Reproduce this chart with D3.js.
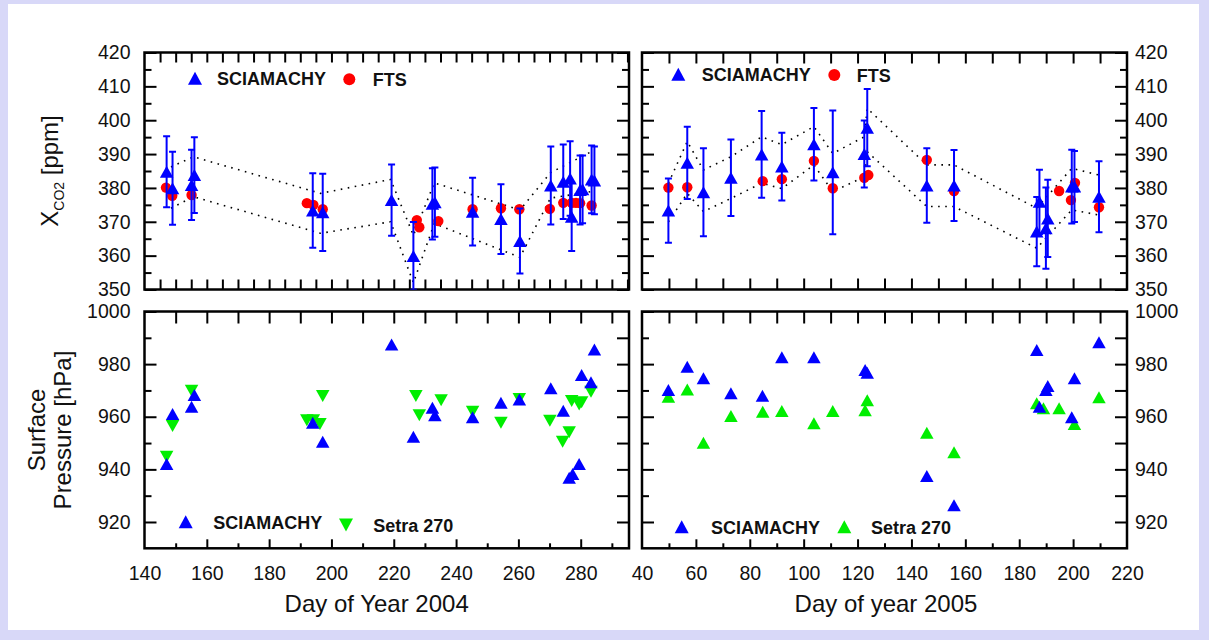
<!DOCTYPE html>
<html>
<head>
<meta charset="utf-8">
<script src="https://cdn.jsdelivr.net/npm/d3@7"></script>
<style>
  body { margin: 0; background: #fff; }
  svg { display: block; font-family: "Liberation Sans", Arial, sans-serif; }
</style>
</head>
<body>
<div id="chart"></div>
<script>
// ---- 2004 : SCIAMACHY XCO2 (day, ppm, error) ----
var sciaDays04 = [147.1, 149.0, 155.1, 156.0, 194.0, 197.2, 219.3, 226.3, 232.4, 233.2, 245.3,
                  254.4, 260.5, 270.4, 274.4, 276.6, 277.1, 279.8, 280.6, 283.5, 284.4]
var sciaCo2_04 = [384.8, 379.9, 380.9, 383.8, 373.3, 372.8, 376.4, 359.9, 375.3, 375.8, 373.0,
                  370.8, 364.3, 380.7, 381.8, 382.8, 371.5, 379.4, 379.6, 382.5, 382.2]
var sciaErr04  = [10.5, 10.8, 10.4, 11.2, 11.0, 11.4, 10.5, 10.0, 10.5, 10.2, 10.0,
                  10.3, 9.6, 11.5, 11.0, 11.0, 10.1, 10.2, 10.0, 10.0, 10.0]

// ---- 2004 : FTS XCO2 ----
var ftsDays04 = [146.9, 148.9, 155.1, 192.1, 194.2, 197.2, 227.4, 228.2, 234.3, 245.3, 254.4,
                 260.3, 270.1, 274.4, 277.1, 278.5, 279.8, 283.5]
var ftsCo2_04 = [380.1, 377.7, 377.9, 375.5, 375.0, 373.7, 370.5, 368.4, 370.2, 373.7, 374.0,
                 373.7, 373.8, 375.6, 375.6, 375.6, 375.5, 374.8]

// ---- 2004 : dotted envelope ----
var envDays04  = [148.5, 155.7, 196.5, 219.0, 226.3, 233.0, 260.5, 270.3, 284.0]
var envUpper04 = [386.2, 389.2, 378.4, 382.5, 366.0, 381.5, 373.5, 384.5, 391.0]
var envLower04 = [374.0, 377.4, 366.6, 370.0, 352.0, 369.5, 359.5, 377.0, 379.0]

// ---- 2005 : SCIAMACHY XCO2 ----
var sciaDays05 = [49.8, 56.8, 62.8, 73.0, 84.4, 91.9, 103.8, 110.8, 122.5, 123.6,
                  145.7, 155.8, 186.5, 187.5, 189.9, 190.6, 199.5, 200.5, 209.6]
var sciaCo2_05 = [373.3, 387.4, 378.7, 383.0, 389.9, 386.3, 392.9, 384.6, 390.0, 397.8,
                  380.7, 380.7, 367.1, 375.9, 368.1, 371.0, 380.4, 380.4, 377.4]
var sciaErr05  = [9.5, 10.7, 13.0, 11.3, 12.8, 10.0, 10.7, 18.3, 9.9, 11.4,
                  11.0, 10.5, 10.2, 9.5, 12.0, 11.4, 10.9, 10.5, 10.5]

// ---- 2005 : FTS XCO2 ----
var ftsDays05 = [49.8, 56.8, 84.8, 91.9, 103.8, 110.8, 122.5, 124.0, 145.7, 155.8, 194.8, 199.2, 200.7, 209.6]
var ftsCo2_05 = [380.1, 380.2, 382.0, 382.6, 388.0, 379.9, 383.0, 383.8, 388.3, 379.1, 379.1, 376.4, 381.5, 374.3]

// ---- 2005 : dotted envelope ----
var envDays05  = [49.8, 56.8, 62.8, 73.0, 84.4, 91.9, 103.8, 110.8, 122.5, 123.6, 145.7, 155.8, 186.5, 199.5, 209.6]
var envUpper05 = [381.4, 393.7, 385.3, 389.2, 395.1, 392.8, 398.1, 390.2, 395.1, 403.5, 386.8, 386.8, 374.0, 385.8, 383.8]
var envLower05 = [370.0, 378.4, 373.0, 376.9, 381.4, 379.8, 386.8, 378.9, 383.3, 390.7, 374.5, 374.5, 362.2, 373.5, 372.0]

// ---- 2004 : surface pressure ----
var sciaPDays04 = [147.1, 149.0, 155.1, 156.0, 194.0, 197.2, 219.3, 226.3, 232.4, 233.2, 245.3,
                   254.4, 260.3, 270.4, 274.4, 276.3, 277.4, 279.5, 280.3, 283.3, 284.4]
var sciaPres04  = [942.0, 961.0, 963.8, 968.3, 957.7, 950.5, 987.5, 952.4, 963.4, 960.6, 959.8,
                   965.3, 966.6, 970.8, 962.3, 936.8, 938.2, 942.0, 975.9, 973.1, 985.6]
var setraDays04 = [147.1, 149.0, 155.1, 192.1, 194.2, 196.3, 197.2, 227.1, 228.2, 235.2, 245.3,
                   254.4, 260.3, 270.1, 274.2, 276.3, 277.1, 279.5, 280.3, 283.3]
var setraPres04 = [944.8, 956.5, 969.9, 958.7, 958.7, 957.2, 967.9, 967.9, 960.6, 966.3, 961.9,
                   957.7, 966.7, 958.5, 950.5, 954.1, 966.0, 964.7, 965.5, 969.5]

// ---- 2005 : surface pressure ----
var sciaPDays05 = [49.8, 56.8, 62.8, 73.0, 84.7, 91.9, 103.8, 122.8, 123.6, 145.7, 155.8,
                   186.5, 187.5, 189.9, 190.6, 199.5, 200.5, 209.6]
var sciaPres05  = [970.2, 979.0, 974.6, 968.9, 968.0, 982.6, 982.6, 977.8, 976.7, 937.5, 926.4,
                   985.4, 963.8, 970.2, 971.7, 959.8, 974.6, 988.3]
var setraDays05 = [49.8, 56.8, 62.8, 73.0, 84.8, 91.9, 103.8, 110.8, 122.8, 123.6, 145.7, 155.8,
                   186.5, 189.0, 194.8, 200.5, 209.6]
var setraPres05 = [967.6, 970.4, 950.1, 960.3, 961.9, 962.2, 957.5, 962.2, 962.5, 966.3, 953.9, 946.5,
                   965.1, 963.2, 963.2, 957.2, 967.4]

// tick label values
var co2Ticks  = [350, 360, 370, 380, 390, 400, 410, 420]
var presTicks = [920, 940, 960, 980, 1000]
var dayTicks04 = [140, 160, 180, 200, 220, 240, 260, 280]
var dayTicks05 = [40, 60, 80, 100, 120, 140, 160, 180, 200, 220]

var BLUE = "#0000ff", RED = "#ff0000", GREEN = "#00ee00"

var svg = d3.select("#chart").append("svg")
  .attr("width", 1209)
  .attr("height", 640)

// slide background
svg.append("rect").attr("width", 1209).attr("height", 640).attr("fill", "#d8d8f8")
svg.append("rect").attr("x", 8).attr("y", 4).attr("width", 1191).attr("height", 626).attr("fill", "#fff")

// scales
var xLeft  = d3.scaleLinear().domain([140, 295.5]).range([144.5, 629])
var xRight = d3.scaleLinear().domain([40, 220]).range([642, 1127])
var yCo2   = d3.scaleLinear().domain([350, 420]).range([289.5, 52.5])
var yPres  = d3.scaleLinear().domain([910, 1000]).range([548.3, 311.5])

function zip(a, b, c) {
  return a.map(function(d, i) { return c ? [d, b[i], c[i]] : [d, b[i]] })
}

// triangle path centred on its bounding box
function tri(w, h, up) {
  var s = up ? 1 : -1
  return "M0," + (-s * h / 2) + "L" + (w / 2) + "," + (s * h / 2) + "L" + (-w / 2) + "," + (s * h / 2) + "Z"
}

// draws inward ticks on one side of a frame
function ticks(g, axisFn, scale, values, len, shift) {
  g.append("g")
    .attr("transform", shift)
    .call(axisFn(scale).tickValues(values).tickSize(len).tickFormat(""))
    .call(function(a) { a.select(".domain").remove() })
    .selectAll("line").attr("stroke", "#000").attr("stroke-width", 2)
}

var clipCount = 0
function panel(x, y, cfg) {
  var g = svg.append("g")
  var x0 = x.range()[0], x1 = x.range()[1], y0 = y.range()[1], y1 = y.range()[0]
  var id = "clip" + (clipCount++)
  svg.append("clipPath").attr("id", id).append("rect")
    .attr("x", x0).attr("y", y0).attr("width", x1 - x0).attr("height", y1 - y0)

  // ticks pointing inwards on all four sides
  cfg.xTop.forEach(function(t) { ticks(g, d3.axisBottom, x, t[0], t[1], "translate(0," + y0 + ")") })
  cfg.xBot.forEach(function(t) { ticks(g, d3.axisTop, x, t[0], t[1], "translate(0," + y1 + ")") })
  cfg.yLeft.forEach(function(t) { ticks(g, d3.axisRight, y, t[0], t[1], "translate(" + x0 + ",0)") })
  cfg.yRight.forEach(function(t) { ticks(g, d3.axisLeft, y, t[0], t[1], "translate(" + x1 + ",0)") })

  g.append("rect")
    .attr("x", x0).attr("y", y0).attr("width", x1 - x0).attr("height", y1 - y0)
    .attr("fill", "none").attr("stroke", "#000").attr("stroke-width", 2.5)

  return g.append("g").attr("clip-path", "url(#" + id + ")")
}

function envelope(g, x, y, days, vals) {
  g.append("path")
    .datum(zip(days, vals))
    .attr("d", d3.line().x(function(d) { return x(d[0]) }).y(function(d) { return y(d[1]) }))
    .attr("fill", "none").attr("stroke", "#000").attr("stroke-width", 1.6)
    .attr("stroke-dasharray", "1.6,5.5")
}

function circles(g, x, y, data) {
  g.selectAll(null).data(data).join("circle")
    .attr("cx", function(d) { return x(d[0]) })
    .attr("cy", function(d) { return y(d[1]) })
    .attr("r", 5.2).attr("fill", RED)
}

function errorBars(g, x, y, data) {
  var eb = g.selectAll(null).data(data).join("g")
    .attr("stroke", BLUE).attr("stroke-width", 2)
  eb.append("line")
    .attr("x1", function(d) { return x(d[0]) }).attr("x2", function(d) { return x(d[0]) })
    .attr("y1", function(d) { return y(d[1] - d[2]) }).attr("y2", function(d) { return y(d[1] + d[2]) })
  ;[-1, 1].forEach(function(sg) {
    eb.append("line")
      .attr("x1", function(d) { return x(d[0]) - 3.5 }).attr("x2", function(d) { return x(d[0]) + 3.5 })
      .attr("y1", function(d) { return y(d[1] + sg * d[2]) }).attr("y2", function(d) { return y(d[1] + sg * d[2]) })
  })
}

function triangles(g, x, y, data, color, up) {
  g.selectAll(null).data(data).join("path")
    .attr("transform", function(d) { return "translate(" + x(d[0]) + "," + y(d[1]) + ")" })
    .attr("d", tri(13.5, 12, up))
    .attr("fill", color)
}

function legendItem(px, py, kind, color, label, tx) {
  if (kind == "circle") {
    svg.append("circle").attr("cx", px).attr("cy", py).attr("r", 6).attr("fill", color)
  } else {
    svg.append("path").attr("transform", "translate(" + px + "," + py + ")")
      .attr("d", tri(14, 13, kind == "up")).attr("fill", color)
  }
  svg.append("text").attr("x", tx).attr("y", py + 7)
    .attr("font-size", "18px").attr("font-weight", "bold").attr("fill", "#111")
    .text(label)
}

// tick positions (value list, inward length)
var co2YTicks = [[d3.range(350, 421, 10), 12], [d3.range(355, 420, 10), 7]]
var presYLeft = [[d3.range(920, 1001, 20), 12], [d3.range(930, 1000, 20), 7]]
var presYRight = [[d3.range(920, 1000, 10), 12]]

// ---- top left: XCO2 2004 ----
var p1 = panel(xLeft, yCo2, {
  xTop: [[d3.range(145, 296, 5), 10]],
  xBot: [[d3.range(145, 296, 5), 10]],
  yLeft: co2YTicks, yRight: co2YTicks
})
envelope(p1, xLeft, yCo2, envDays04, envUpper04)
envelope(p1, xLeft, yCo2, envDays04, envLower04)
circles(p1, xLeft, yCo2, zip(ftsDays04, ftsCo2_04))
errorBars(p1, xLeft, yCo2, zip(sciaDays04, sciaCo2_04, sciaErr04))
triangles(p1, xLeft, yCo2, zip(sciaDays04, sciaCo2_04), BLUE, true)

// ---- top right: XCO2 2005 ----
var p2 = panel(xRight, yCo2, {
  xTop: [[d3.range(50, 220, 10), 11]],
  xBot: [[d3.range(50, 220, 10), 11]],
  yLeft: co2YTicks, yRight: co2YTicks
})
envelope(p2, xRight, yCo2, envDays05, envUpper05)
envelope(p2, xRight, yCo2, envDays05, envLower05)
circles(p2, xRight, yCo2, zip(ftsDays05, ftsCo2_05))
errorBars(p2, xRight, yCo2, zip(sciaDays05, sciaCo2_05, sciaErr05))
triangles(p2, xRight, yCo2, zip(sciaDays05, sciaCo2_05), BLUE, true)

// ---- bottom left: pressure 2004 ----
var p3 = panel(xLeft, yPres, {
  xTop: [[d3.range(150, 291, 10), 12]],
  xBot: [[d3.range(160, 291, 20), 9], [d3.range(150, 291, 20), 5]],
  yLeft: presYLeft, yRight: presYRight
})
triangles(p3, xLeft, yPres, zip(setraDays04, setraPres04), GREEN, false)
triangles(p3, xLeft, yPres, zip(sciaPDays04, sciaPres04), BLUE, true)

// ---- bottom right: pressure 2005 ----
var p4 = panel(xRight, yPres, {
  xTop: [[d3.range(50, 220, 10), 12]],
  xBot: [[d3.range(60, 220, 20), 9], [d3.range(50, 220, 20), 5]],
  yLeft: presYLeft, yRight: presYRight
})
triangles(p4, xRight, yPres, zip(setraDays05, setraPres05), GREEN, true)
triangles(p4, xRight, yPres, zip(sciaPDays05, sciaPres05), BLUE, true)

// ---- tick labels ----
function labels(axis, shift) {
  var a = svg.append("g").attr("transform", shift).call(axis.tickFormat(d3.format("d")))
  a.select(".domain").remove()
  a.selectAll("line").remove()
  a.selectAll("text").attr("font-size", "19.5px").attr("fill", "#111")
    .attr("font-family", "'Liberation Sans', Arial, sans-serif")
  return a
}
labels(d3.axisLeft(yCo2).tickValues(co2Ticks).tickSize(0).tickPadding(14), "translate(144.5,0)")
labels(d3.axisRight(yCo2).tickValues(co2Ticks).tickSize(0).tickPadding(8), "translate(1127,0)")
labels(d3.axisLeft(yPres).tickValues(presTicks).tickSize(0).tickPadding(14), "translate(144.5,0)")
labels(d3.axisRight(yPres).tickValues(presTicks).tickSize(0).tickPadding(8), "translate(1127,0)")
labels(d3.axisBottom(xLeft).tickValues(dayTicks04).tickSize(0).tickPadding(18), "translate(0,548.3)")
labels(d3.axisBottom(xRight).tickValues(dayTicks05).tickSize(0).tickPadding(18), "translate(0,548.3)")

// ---- axis titles ----
svg.append("text").attr("x", 376.7).attr("y", 612).attr("text-anchor", "middle")
  .attr("font-size", "24px").attr("fill", "#111").text("Day of Year 2004")
svg.append("text").attr("x", 886).attr("y", 612).attr("text-anchor", "middle")
  .attr("font-size", "24px").attr("fill", "#111").text("Day of year 2005")

var yt = svg.append("text").attr("transform", "translate(58,171) rotate(-90)")
  .attr("text-anchor", "middle").attr("font-size", "24px").attr("fill", "#111")
yt.append("tspan").text("X")
yt.append("tspan").attr("font-size", "14px").attr("dy", 6).text("CO2")
yt.append("tspan").attr("dy", -6).text(" [ppm]")

svg.append("text").attr("transform", "translate(45,430) rotate(-90)")
  .attr("text-anchor", "middle").attr("font-size", "24px").attr("fill", "#111").text("Surface")
svg.append("text").attr("transform", "translate(71,430) rotate(-90)")
  .attr("text-anchor", "middle").attr("font-size", "24px").attr("fill", "#111").text("Pressure [hPa]")

// ---- legends ----
legendItem(195, 78.3, "up", BLUE, "SCIAMACHY", 217)
legendItem(349.3, 79.3, "circle", RED, "FTS", 372.7)
legendItem(678.3, 74.3, "up", BLUE, "SCIAMACHY", 701.7)
legendItem(834.3, 75, "circle", RED, "FTS", 856.7)
legendItem(185.7, 521.7, "up", BLUE, "SCIAMACHY", 213.3)
legendItem(346, 525, "down", GREEN, "Setra 270", 373.3)
legendItem(681.7, 526.7, "up", BLUE, "SCIAMACHY", 711)
legendItem(844.3, 526.7, "up", GREEN, "Setra 270", 871)
</script>
</body>
</html>
